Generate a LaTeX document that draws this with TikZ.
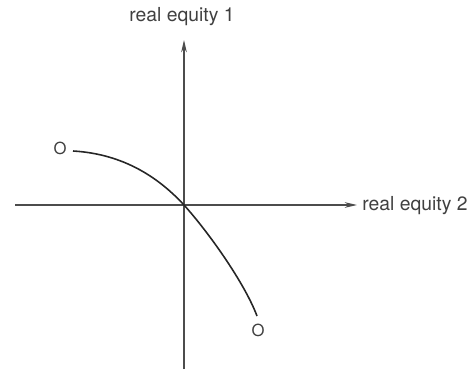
\documentclass[tikz,border=0pt]{standalone}
\usepackage{fontspec}
\setmainfont{TeX Gyre Heros}
\usetikzlibrary{arrows.meta, positioning}

\begin{document}
\begin{tikzpicture}[>={Stealth[length=7pt, width=3.2pt]}]
  \useasboundingbox (0, 0) rectangle (9.4, 7.38);

  % Axes
  \coordinate (origin) at (3.68, 3.28);
  \coordinate (xleft) at (0.3, 3.28);
  \coordinate (xright) at (7.14, 3.28);
  \coordinate (ybottom) at (3.68, 0);
  \coordinate (ytop) at (3.68, 6.58);
  \draw[gray!60!black, line width=0.6pt, ->] (xleft) -- (xright);
  \draw[gray!60!black, line width=0.6pt, ->] (ybottom) -- (ytop);

  \node[anchor=west, font=\fontsize{11}{13}\selectfont, text=gray!50!black,
        inner sep=0pt] (eq2) at (7.24, 3.26) {real equity 2};
  \node[font=\fontsize{11}{13}\selectfont, text=gray!50!black,
        inner sep=0pt] (eq1) at (3.64, 7.04) {real equity 1};

  % Offer curve
  \coordinate (start) at (1.46, 4.36);
  \coordinate (end) at (5.14, 1.06);
  \draw[black!85, line width=0.9pt] (start)
    .. controls (2.5, 4.3) and (3.2, 3.8) .. (origin)
    .. controls (4.2, 2.7) and (4.9, 1.7) .. (end);

  \node[font=\fontsize{9.5}{11}\selectfont, text=gray!50!black,
        inner sep=0pt] (oleft) at (1.2, 4.42) {O};
  \node[font=\fontsize{9.5}{11}\selectfont, text=gray!50!black,
        inner sep=0pt] (oright) at (5.16, 0.78) {O};
\end{tikzpicture}
\end{document}
